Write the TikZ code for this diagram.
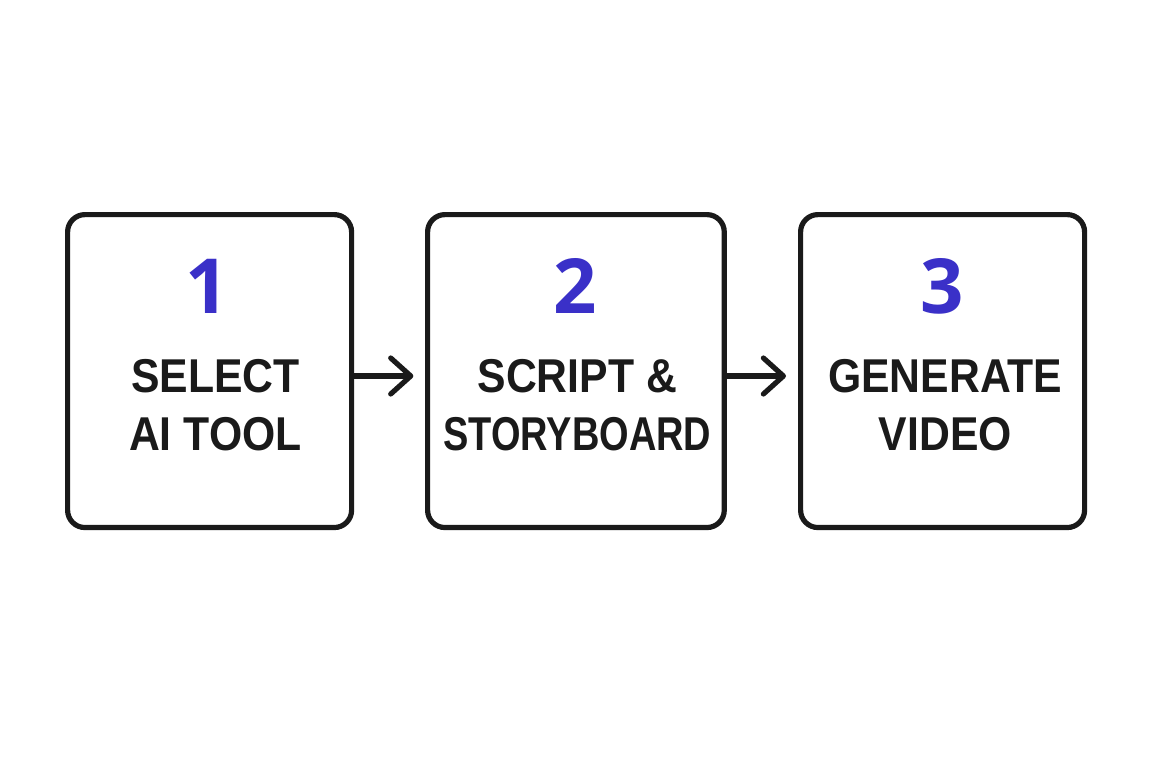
\documentclass[tikz,border=0pt]{standalone}
\usepackage{fontspec}
\setmainfont{Liberation Sans}
\newfontfamily\labelfont[FakeStretch=0.9]{Liberation Sans}
\newfontfamily\narrowfont[FakeStretch=0.8]{Liberation Sans}
\newfontfamily\digitfont{Open Sans}
\usetikzlibrary{arrows.meta}
\definecolor{stepblue}{HTML}{3A30C8}
\definecolor{inkblack}{HTML}{1A1A1A}
\tikzset{
	stepbox/.style={draw=inkblack, line width=3.9pt, rounded corners=13pt, anchor=north west, minimum height=234.7pt},
	stepnum/.style={text=stepblue, font=\fontsize{57pt}{57pt}\digitfont\bfseries},
	steptxt/.style={text=inkblack, font=\fontsize{35.6pt}{43.8pt}\labelfont\bfseries, align=center},
	steparrow/.style={draw=inkblack, line width=3.9pt, -{Straight Barb[length=15pt,width=27pt,round]}},
}
\begin{document}
\begin{tikzpicture}[x=1pt,y=-1pt]
		\useasboundingbox (0,0) rectangle (864,576);

		%% Boxes
		\node[stepbox, minimum width=213pt] at (48.75,159)(box1){};
		\node[stepbox, minimum width=222.5pt] at (318.75,159)(box2){};
		\node[stepbox, minimum width=213pt] at (598.5,159)(box3){};

		%% Numbers
		\node[stepnum] at (155.5,214.5)(n1){1};
		\node[stepnum] at (431.5,214.5)(n2){2};
		\node[stepnum] at (707,214.5)(n3){3};

		%% Labels
		\node[steptxt] at (161.5,304)(t1){SELECT\\AI TOOL};
		\node[steptxt] at (433,304)(t2){SCRIPT \&\\{\narrowfont\bfseries STORYBOARD}};
		\node[steptxt] at (709,304)(t3){GENERATE\\VIDEO};

		%% Arrows
		\coordinate (h1) at (310,282);
		\coordinate (h2) at (589.5,282);
		\draw[steparrow] (box1.east |- h1) -- (h1);
		\draw[steparrow] (box2.east |- h2) -- (h2);
\end{tikzpicture}
\end{document}
